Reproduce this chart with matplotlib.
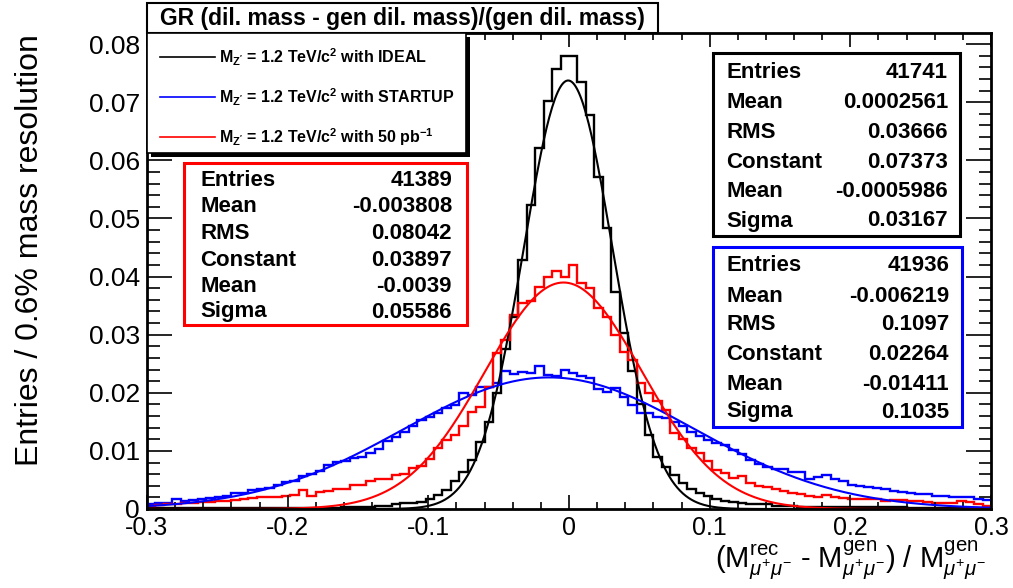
import numpy as np
import matplotlib.pyplot as plt
from matplotlib.patches import Rectangle
from matplotlib.lines import Line2D
from matplotlib.ticker import MultipleLocator, FuncFormatter

plt.rcParams['font.family'] = ['Liberation Sans', 'DejaVu Sans']
plt.rcParams['mathtext.fontset'] = 'custom'
plt.rcParams['mathtext.rm'] = 'Liberation Sans'
plt.rcParams['mathtext.it'] = 'Liberation Sans:italic'
plt.rcParams['mathtext.bf'] = 'Liberation Sans:bold'

# 100 bins of 0.6% between -0.3 and 0.3
edges = np.linspace(-0.3, 0.3, 101)

ideal = [
    0.0001, 0.0001, 0.0001, 0.0001, 0.0001, 0.0001, 0.0001, 0.0001, 0.0001, 0.0001,
    0.0001, 0.0001, 0.0001, 0.0001, 0.0001, 0.0002, 0.0002, 0.0002, 0.0002, 0.0002,
    0.0002, 0.0002, 0.0002, 0.0003, 0.0003, 0.0004, 0.0004, 0.0005, 0.0006, 0.0008,
    0.0010, 0.0010, 0.0012, 0.0018, 0.0024, 0.0033, 0.0048, 0.0063, 0.0085, 0.0115,
    0.0150, 0.0200, 0.0275, 0.0330, 0.0429, 0.0523, 0.0621, 0.0702, 0.0757, 0.0780,
    0.0780, 0.0734, 0.0678, 0.0572, 0.0483, 0.0374, 0.0302, 0.0237, 0.0180, 0.0127,
    0.0090, 0.0072, 0.0058, 0.0045, 0.0034, 0.0027, 0.0022, 0.0018, 0.0014, 0.0012,
    0.0010, 0.0009, 0.0009, 0.0008, 0.0006, 0.0005, 0.0005, 0.0004, 0.0004, 0.0004,
    0.0003, 0.0003, 0.0003, 0.0003, 0.0003, 0.0003, 0.0003, 0.0003, 0.0003, 0.0003,
    0.0002, 0.0002, 0.0002, 0.0002, 0.0002, 0.0002, 0.0002, 0.0002, 0.0002, 0.0002,
]
startup = [
    0.0009, 0.0010, 0.0011, 0.0017, 0.0014, 0.0015, 0.0018, 0.0019, 0.0020, 0.0022,
    0.0027, 0.0028, 0.0032, 0.0034, 0.0036, 0.0041, 0.0047, 0.0048, 0.0056, 0.0060,
    0.0065, 0.0076, 0.0081, 0.0083, 0.0087, 0.0090, 0.0096, 0.0104, 0.0117, 0.0124,
    0.0133, 0.0142, 0.0153, 0.0159, 0.0165, 0.0173, 0.0179, 0.0199, 0.0196, 0.0210,
    0.0210, 0.0216, 0.0238, 0.0232, 0.0236, 0.0234, 0.0246, 0.0230, 0.0228, 0.0240,
    0.0234, 0.0228, 0.0225, 0.0207, 0.0202, 0.0208, 0.0193, 0.0179, 0.0165, 0.0165,
    0.0159, 0.0156, 0.0150, 0.0142, 0.0132, 0.0125, 0.0119, 0.0113, 0.0110, 0.0102,
    0.0095, 0.0085, 0.0078, 0.0073, 0.0069, 0.0068, 0.0063, 0.0064, 0.0051, 0.0055,
    0.0058, 0.0052, 0.0048, 0.0042, 0.0040, 0.0037, 0.0036, 0.0034, 0.0031, 0.0029,
    0.0028, 0.0026, 0.0025, 0.0023, 0.0022, 0.0021, 0.0021, 0.0021, 0.0018, 0.0015,
]
pb50 = [
    0.0006, 0.0007, 0.0008, 0.0009, 0.0010, 0.0011, 0.0012, 0.0012, 0.0013, 0.0014,
    0.0016, 0.0018, 0.0019, 0.0020, 0.0021, 0.0021, 0.0022, 0.0024, 0.0033, 0.0022,
    0.0030, 0.0031, 0.0035, 0.0035, 0.0042, 0.0042, 0.0049, 0.0051, 0.0052, 0.0058,
    0.0060, 0.0070, 0.0074, 0.0086, 0.0105, 0.0119, 0.0127, 0.0142, 0.0167, 0.0176,
    0.0210, 0.0268, 0.0291, 0.0334, 0.0355, 0.0358, 0.0382, 0.0400, 0.0409, 0.0400,
    0.0420, 0.0388, 0.0380, 0.0345, 0.0330, 0.0300, 0.0270, 0.0256, 0.0216, 0.0199,
    0.0185, 0.0170, 0.0130, 0.0120, 0.0105, 0.0096, 0.0082, 0.0067, 0.0062, 0.0053,
    0.0056, 0.0044, 0.0040, 0.0037, 0.0034, 0.0031, 0.0028, 0.0025, 0.0022, 0.0021,
    0.0024, 0.0021, 0.0019, 0.0018, 0.0018, 0.0017, 0.0017, 0.0013, 0.0015, 0.0015,
    0.0014, 0.0013, 0.0012, 0.0011, 0.0011, 0.0011, 0.0013, 0.0012, 0.0008, 0.0006,
]

# gaussian fit results (constant, mean, sigma) and histogram stats
fit_ideal = (0.07373, -0.0005986, 0.03167)
fit_startup = (0.02264, -0.01411, 0.1035)
fit_pb50 = (0.03897, -0.0039, 0.05586)
entries = {'ideal': '41741', 'startup': '41936', 'pb50': '41389'}
means = {'ideal': '0.0002561', 'startup': '-0.006219', 'pb50': '-0.003808'}
rms = {'ideal': '0.03666', 'startup': '0.1097', 'pb50': '0.08042'}

W, H = 1013, 588
fig = plt.figure(figsize=(W / 100, H / 100), dpi=100)
ax = fig.add_axes([147 / W, 1 - 509 / H, (991 - 147) / W, (509 - 33) / H])

def gaus(x, p):
    c, m, s = p
    return c * np.exp(-0.5 * ((x - m) / s) ** 2)

xf = np.linspace(-0.3, 0.3, 601)
series = [
    ('ideal', ideal, fit_ideal, 'black', 'IDEAL'),
    ('startup', startup, fit_startup, '#0000ff', 'STARTUP'),
    ('pb50', pb50, fit_pb50, '#ff0000', r'50 pb$^{\mathbf{-1}}$'),
]
for key, h, fit, col, _ in series:
    ax.stairs(h, edges, baseline=None, color=col, lw=1.7)
    ax.plot(xf, gaus(xf, fit), color=col, lw=1.5)

ax.set_xlim(-0.3, 0.3)
ax.set_ylim(0, 0.0819)
for sp in ax.spines.values():
    sp.set_linewidth(2)

ax.xaxis.set_major_locator(MultipleLocator(0.1))
ax.xaxis.set_minor_locator(MultipleLocator(0.02))
ax.yaxis.set_major_locator(MultipleLocator(0.01))
ax.yaxis.set_minor_locator(MultipleLocator(0.002))
ax.xaxis.set_major_formatter(FuncFormatter(lambda v, _: f'{round(v, 1):g}'))
ax.yaxis.set_major_formatter(FuncFormatter(lambda v, _: '0' if abs(v) < 1e-9 else f'{v:.2f}'))
ax.tick_params(which='both', direction='in', top=True, right=True, width=1.2)
ax.tick_params(axis='x', which='major', length=10, labelsize=18, pad=5)
ax.tick_params(axis='x', which='minor', length=5)
ax.tick_params(axis='y', which='major', length=18, labelsize=19, pad=5)
ax.tick_params(axis='y', which='minor', length=9)

fig.text(30 / W, 1 - 250 / H, 'Entries / 0.6% mass resolution', rotation=90,
         ha='center', va='center', fontsize=23)
fig.text(986 / W, 1 - 568 / H,
         r'(M$^{\rm rec}_{\mu^{+}\mu^{-}}$ - M$^{\rm gen}_{\mu^{+}\mu^{-}}$) / M$^{\rm gen}_{\mu^{+}\mu^{-}}$',
         ha='right', va='baseline', fontsize=21)

def px_rect(x0, y0, x1, y1, **kw):
    r = Rectangle((x0 / W, 1 - y1 / H), (x1 - x0) / W, (y1 - y0) / H,
                  transform=fig.transFigure, **kw)
    fig.add_artist(r)

# title box
px_rect(147, 3, 658, 33, facecolor='white', edgecolor='black', lw=1.5)
fig.text(402 / W, 1 - 18 / H, 'GR (dil. mass - gen dil. mass)/(gen dil. mass)',
         ha='center', va='center', fontsize=16.5, fontweight='bold')

# legend box with shadow
px_rect(151, 37, 470, 157, facecolor='black', edgecolor='black', lw=0)
px_rect(147, 33, 466, 153, facecolor='white', edgecolor='black', lw=1.2)
for i, (key, h, fit, col, tag) in enumerate(series):
    y = 1 - (57 + 40 * i) / H
    fig.add_artist(Line2D([160 / W, 215 / W], [y, y], color=col, lw=1.2,
                          transform=fig.transFigure))
    fig.text(219 / W, y, r"M$_{\mathbf{Z'}}$ = 1.2 TeV/c$^{\mathbf{2}}$ with " + tag,
             ha='left', va='center', fontsize=11.5, fontweight='bold')

# statistics boxes
def stats_box(key, fit, col, x0, y0, x1, y1, lx, rx, rows):
    px_rect(x0, y0, x1, y1, facecolor='white', edgecolor=col, lw=2.2)
    labels = ['Entries', 'Mean', 'RMS', 'Constant', 'Mean', 'Sigma']
    values = [entries[key], means[key], rms[key], str(fit[0]), str(fit[1]), str(fit[2])]
    for lab, val, yy in zip(labels, values, rows):
        fig.text(lx / W, 1 - yy / H, lab, ha='left', va='center',
                 fontsize=16, fontweight='bold')
        fig.text(rx / W, 1 - yy / H, val, ha='right', va='center',
                 fontsize=16, fontweight='bold')

stats_box('pb50', fit_pb50, '#ff0000', 184, 163, 467, 325, 200, 452,
          [181, 207, 233, 261, 287, 312])
stats_box('ideal', fit_ideal, 'black', 713, 53, 960, 236, 726, 948,
          [72, 102, 132, 162, 192, 221])
stats_box('startup', fit_startup, '#0000ff', 713, 247, 962, 427, 726, 949,
          [266, 296, 325, 355, 384, 412])

fig.savefig('out.png', dpi=100)
